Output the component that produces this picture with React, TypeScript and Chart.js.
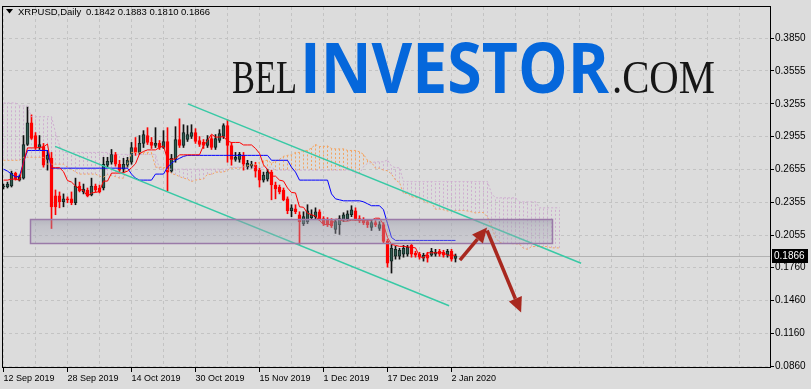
import React, { useEffect, useRef } from 'react';
import { Chart, registerables } from 'chart.js';

Chart.register(...registerables);

// ---------- DATA ----------
const symbolTitle = 'XRPUSD,Daily';
const dateLabels = ['12 Sep 2019', '28 Sep 2019', '14 Oct 2019', '30 Oct 2019', '15 Nov 2019', '1 Dec 2019', '17 Dec 2019', '2 Jan 2020'];
const yTickVals = [0.086, 0.116, 0.146, 0.176, 0.2055, 0.2355, 0.2655, 0.2955, 0.3255, 0.3555, 0.385];

const open = [
  0.2495, 0.2495, 0.2504, 0.2622, 0.2558, 0.2576, 0.2883, 0.3082, 0.2965, 0.2856,
  0.2865, 0.2748, 0.2757, 0.2414, 0.2414, 0.2360, 0.2387, 0.2387, 0.2351, 0.2504,
  0.2450, 0.2468, 0.2423, 0.2504, 0.2486, 0.2486, 0.2694, 0.2721, 0.2793, 0.2703,
  0.2658, 0.2694, 0.2721, 0.2856, 0.2811, 0.2893, 0.2965, 0.2902, 0.2874, 0.2893,
  0.2856, 0.2911, 0.2640, 0.2748, 0.2929, 0.2874, 0.2929, 0.2956, 0.2992, 0.2920,
  0.2902, 0.2874, 0.2938, 0.2856, 0.2920, 0.2956, 0.3055, 0.2874, 0.2748, 0.2748,
  0.2784, 0.2676, 0.2685, 0.2694, 0.2649, 0.2558, 0.2567, 0.2631, 0.2513, 0.2495,
  0.2468, 0.2387, 0.2278, 0.2296, 0.2242, 0.2161, 0.2179, 0.2215, 0.2224, 0.2269,
  0.2206, 0.2197, 0.2188, 0.2107, 0.2152, 0.2197, 0.2206, 0.2242, 0.2278, 0.2206,
  0.2197, 0.2179, 0.2125, 0.2170, 0.2116, 0.2152, 0.1998, 0.1818, 0.1863, 0.1863,
  0.1881, 0.1881, 0.1962, 0.1890, 0.1881, 0.1845, 0.1872, 0.1872, 0.1881, 0.1908,
  0.1899, 0.1872, 0.1908, 0.1842,
];
const high = [
  0.2522, 0.2540, 0.2640, 0.2631, 0.2604, 0.2965, 0.3227, 0.3154, 0.2992, 0.2965,
  0.2893, 0.2829, 0.2811, 0.2468, 0.2450, 0.2432, 0.2405, 0.2450, 0.2576, 0.2540,
  0.2522, 0.2486, 0.2576, 0.2522, 0.2513, 0.2766, 0.2766, 0.2838, 0.2811, 0.2739,
  0.2757, 0.2766, 0.2902, 0.2947, 0.2965, 0.3010, 0.3037, 0.2947, 0.3037, 0.2920,
  0.3010, 0.3037, 0.2793, 0.3046, 0.3118, 0.3064, 0.3055, 0.3064, 0.3028, 0.2956,
  0.2929, 0.2965, 0.2965, 0.2974, 0.3019, 0.3073, 0.3109, 0.2902, 0.2811, 0.2811,
  0.2811, 0.2739, 0.2730, 0.2721, 0.2667, 0.2631, 0.2658, 0.2649, 0.2540, 0.2513,
  0.2486, 0.2405, 0.2333, 0.2333, 0.2269, 0.2269, 0.2333, 0.2287, 0.2305, 0.2287,
  0.2224, 0.2215, 0.2206, 0.2197, 0.2233, 0.2260, 0.2278, 0.2324, 0.2305, 0.2233,
  0.2215, 0.2197, 0.2197, 0.2188, 0.2179, 0.2170, 0.2016, 0.1971, 0.1953, 0.1935,
  0.1962, 0.1962, 0.1980, 0.1908, 0.1899, 0.1890, 0.1899, 0.1935, 0.1926, 0.1926,
  0.1917, 0.1926, 0.1926, 0.1883,
];
const low = [
  0.2477, 0.2486, 0.2495, 0.2558, 0.2549, 0.2567, 0.2874, 0.2929, 0.2838, 0.2838,
  0.2676, 0.2649, 0.2116, 0.2242, 0.2305, 0.2314, 0.2351, 0.2333, 0.2333, 0.2450,
  0.2432, 0.2405, 0.2414, 0.2450, 0.2441, 0.2468, 0.2676, 0.2703, 0.2685, 0.2631,
  0.2631, 0.2676, 0.2703, 0.2784, 0.2793, 0.2856, 0.2883, 0.2847, 0.2856, 0.2838,
  0.2847, 0.2459, 0.2631, 0.2721, 0.2856, 0.2856, 0.2911, 0.2938, 0.2893, 0.2865,
  0.2847, 0.2856, 0.2838, 0.2838, 0.2902, 0.2938, 0.2721, 0.2694, 0.2730, 0.2721,
  0.2649, 0.2658, 0.2667, 0.2585, 0.2495, 0.2540, 0.2549, 0.2378, 0.2387, 0.2432,
  0.2369, 0.2251, 0.2224, 0.2251, 0.1971, 0.2143, 0.2161, 0.2197, 0.2206, 0.2188,
  0.2143, 0.2134, 0.2125, 0.2071, 0.2062, 0.2179, 0.2188, 0.2224, 0.2188, 0.2170,
  0.2152, 0.2125, 0.2098, 0.2134, 0.2098, 0.1980, 0.1763, 0.1709, 0.1836, 0.1836,
  0.1854, 0.1863, 0.1854, 0.1854, 0.1836, 0.1818, 0.1809, 0.1863, 0.1863, 0.1863,
  0.1854, 0.1854, 0.1818, 0.1810,
];
const close = [
  0.2504, 0.2522, 0.2622, 0.2567, 0.2585, 0.2883, 0.3082, 0.2938, 0.2856, 0.2883,
  0.2694, 0.2784, 0.2314, 0.2314, 0.2360, 0.2387, 0.2378, 0.2351, 0.2504, 0.2459,
  0.2477, 0.2414, 0.2504, 0.2468, 0.2450, 0.2703, 0.2730, 0.2793, 0.2703, 0.2649,
  0.2703, 0.2739, 0.2856, 0.2811, 0.2893, 0.2974, 0.2902, 0.2874, 0.2893, 0.2856,
  0.2911, 0.2631, 0.2757, 0.2929, 0.2874, 0.2992, 0.2974, 0.2992, 0.2911, 0.2883,
  0.2874, 0.2929, 0.2856, 0.2938, 0.2983, 0.3055, 0.2874, 0.2748, 0.2766, 0.2793,
  0.2703, 0.2712, 0.2703, 0.2640, 0.2558, 0.2604, 0.2631, 0.2513, 0.2477, 0.2450,
  0.2378, 0.2278, 0.2305, 0.2269, 0.2179, 0.2224, 0.2278, 0.2242, 0.2269, 0.2206,
  0.2161, 0.2152, 0.2143, 0.2179, 0.2206, 0.2242, 0.2251, 0.2287, 0.2206, 0.2188,
  0.2170, 0.2152, 0.2170, 0.2152, 0.2152, 0.1998, 0.1800, 0.1935, 0.1926, 0.1917,
  0.1935, 0.1944, 0.1881, 0.1872, 0.1854, 0.1872, 0.1845, 0.1908, 0.1899, 0.1881,
  0.1872, 0.1908, 0.1836, 0.1866,
];

const tenkan = [
  0.2558, 0.2558, 0.2567, 0.2567, 0.2558, 0.2721, 0.2852, 0.2852, 0.2852, 0.2856,
  0.2861, 0.2888, 0.2671, 0.2671, 0.2671, 0.2635, 0.2554, 0.2540, 0.2504, 0.2477,
  0.2463, 0.2409, 0.2441, 0.2445, 0.2454, 0.2549, 0.2549, 0.2622, 0.2622, 0.2622,
  0.2626, 0.2640, 0.2671, 0.2707, 0.2798, 0.2820, 0.2834, 0.2834, 0.2834, 0.2856,
  0.2870, 0.2748, 0.2748, 0.2752, 0.2789, 0.2789, 0.2789, 0.2789, 0.2789, 0.2789,
  0.2874, 0.2920, 0.2978, 0.2951, 0.2951, 0.2956, 0.2915, 0.2902, 0.2902, 0.2902,
  0.2879, 0.2879, 0.2879, 0.2847, 0.2802, 0.2698, 0.2653, 0.2594, 0.2594, 0.2558,
  0.2549, 0.2486, 0.2445, 0.2441, 0.2314, 0.2310, 0.2256, 0.2242, 0.2229, 0.2188,
  0.2152, 0.2152, 0.2152, 0.2202, 0.2197, 0.2183, 0.2183, 0.2192, 0.2192, 0.2192,
  0.2192, 0.2192, 0.2192, 0.2210, 0.2210, 0.2152, 0.2034, 0.1971, 0.1962, 0.1953,
  0.1953, 0.1948, 0.1944, 0.1939, 0.1863, 0.1845, 0.1894, 0.1894, 0.1894, 0.1894,
  0.1894, 0.1872, 0.1872, 0.1872,
];
const kijun = [
  0.2658, 0.2640, 0.2613, 0.2585, 0.2594, 0.2721, 0.2829, 0.2829, 0.2829, 0.2829,
  0.2829, 0.2829, 0.2667, 0.2667, 0.2667, 0.2667, 0.2667, 0.2667, 0.2667, 0.2667,
  0.2667, 0.2667, 0.2667, 0.2667, 0.2667, 0.2667, 0.2667, 0.2667, 0.2667, 0.2667,
  0.2667, 0.2667, 0.2613, 0.2576, 0.2558, 0.2558, 0.2558, 0.2558, 0.2613, 0.2613,
  0.2613, 0.2676, 0.2712, 0.2739, 0.2757, 0.2775, 0.2784, 0.2784, 0.2784, 0.2784,
  0.2784, 0.2784, 0.2784, 0.2784, 0.2784, 0.2784, 0.2784, 0.2784, 0.2784, 0.2784,
  0.2784, 0.2784, 0.2784, 0.2784, 0.2784, 0.2784, 0.2784, 0.2739, 0.2739, 0.2739,
  0.2739, 0.2739, 0.2676, 0.2631, 0.2558, 0.2558, 0.2558, 0.2558, 0.2558, 0.2558,
  0.2558, 0.2558, 0.2432, 0.2387, 0.2378, 0.2369, 0.2369, 0.2369, 0.2369, 0.2369,
  0.2360, 0.2342, 0.2324, 0.2324, 0.2324, 0.2287, 0.2161, 0.2034, 0.2007, 0.2007,
  0.2007, 0.2007, 0.2007, 0.2007, 0.2007, 0.2007, 0.2007, 0.2007, 0.2007, 0.2007,
  0.2007, 0.2007, 0.2007, 0.2007,
];
const spanA = [
  0.2739, 0.2739, 0.2739, 0.2739, 0.2739, 0.2766, 0.2766, 0.2766, 0.2766, 0.2766,
  0.2766, 0.2703, 0.2703, 0.2703, 0.2703, 0.2703, 0.2676, 0.2658, 0.2631, 0.2613,
  0.2613, 0.2613, 0.2613, 0.2613, 0.2594, 0.2585, 0.2608, 0.2599, 0.2590, 0.2576,
  0.2576, 0.2703, 0.2811, 0.2811, 0.2811, 0.2811, 0.2811, 0.2811, 0.2676, 0.2676,
  0.2676, 0.2658, 0.2617, 0.2608, 0.2590, 0.2576, 0.2567, 0.2545, 0.2558, 0.2563,
  0.2567, 0.2613, 0.2608, 0.2631, 0.2631, 0.2631, 0.2649, 0.2667, 0.2667, 0.2667,
  0.2680, 0.2689, 0.2698, 0.2698, 0.2721, 0.2734, 0.2739, 0.2712, 0.2730, 0.2748,
  0.2775, 0.2784, 0.2789, 0.2811, 0.2811, 0.2829, 0.2829, 0.2852, 0.2883, 0.2865,
  0.2865, 0.2870, 0.2847, 0.2843, 0.2843, 0.2843, 0.2829, 0.2829, 0.2829, 0.2816,
  0.2793, 0.2739, 0.2721, 0.2667, 0.2667, 0.2649, 0.2644, 0.2613, 0.2558, 0.2536,
  0.2436, 0.2436, 0.2407, 0.2400, 0.2393, 0.2369, 0.2351, 0.2351, 0.2292, 0.2294,
  0.2287, 0.2276, 0.2276, 0.2281, 0.2281, 0.2281, 0.2276, 0.2268, 0.2258, 0.2262,
  0.2262, 0.2220, 0.2134, 0.2034, 0.1989, 0.1980, 0.1980, 0.1978, 0.1976, 0.1973,
  0.1935, 0.1926, 0.1951, 0.1951, 0.1951, 0.1951, 0.1951, 0.1939, 0.1939, 0.1939,
];
const spanB = [
  0.3263, 0.3263, 0.3263, 0.3263, 0.3236, 0.3236, 0.3236, 0.3137, 0.3137, 0.3137,
  0.3137, 0.3137, 0.3137, 0.2992, 0.2874, 0.2811, 0.2811, 0.2811, 0.2811, 0.2811,
  0.2811, 0.2811, 0.2811, 0.2811, 0.2811, 0.2811, 0.2811, 0.2793, 0.2793, 0.2793,
  0.2793, 0.2793, 0.2793, 0.2793, 0.2793, 0.2793, 0.2793, 0.2793, 0.2793, 0.2658,
  0.2658, 0.2658, 0.2658, 0.2658, 0.2658, 0.2658, 0.2658, 0.2658, 0.2658, 0.2658,
  0.2658, 0.2658, 0.2658, 0.2658, 0.2658, 0.2658, 0.2658, 0.2676, 0.2676, 0.2676,
  0.2676, 0.2676, 0.2676, 0.2676, 0.2676, 0.2676, 0.2676, 0.2676, 0.2649, 0.2649,
  0.2649, 0.2649, 0.2649, 0.2649, 0.2649, 0.2649, 0.2649, 0.2649, 0.2649, 0.2649,
  0.2649, 0.2649, 0.2649, 0.2649, 0.2649, 0.2649, 0.2649, 0.2649, 0.2617, 0.2617,
  0.2680, 0.2712, 0.2716, 0.2725, 0.2725, 0.2725, 0.2743, 0.2685, 0.2671, 0.2671,
  0.2545, 0.2545, 0.2545, 0.2545, 0.2545, 0.2545, 0.2545, 0.2545, 0.2545, 0.2545,
  0.2545, 0.2545, 0.2545, 0.2545, 0.2545, 0.2545, 0.2545, 0.2545, 0.2545, 0.2545,
  0.2545, 0.2545, 0.2436, 0.2396, 0.2396, 0.2396, 0.2396, 0.2396, 0.2396, 0.2360,
  0.2360, 0.2360, 0.2360, 0.2360, 0.2305, 0.2305, 0.2305, 0.2305, 0.2305, 0.2305,
];

// drawn objects, in (bar index, price) coordinates
const upperChannel = [[46.1, 0.3254], [144.4, 0.1799]];
const lowerChannel = [[12.9, 0.2866], [111.4, 0.1411]];
const boxBars = [6.5, 137.1];
const boxPrices = [0.2206, 0.198];
const arrowUp = [[114.1, 0.1827], [120.9, 0.2125]];
const arrowDown = [[120.9, 0.2098], [129.4, 0.1348]];

// ---------- STYLE ----------
const BG = '#dcdcdc';
const GRID = '#c3c3c3';
const N = open.length;
const isBull = (i: number) => close[i] >= open[i];

function fitText(ctx: CanvasRenderingContext2D, text: string, font: string, color: string, left: number, baseline: number, width: number) {
  ctx.save();
  ctx.font = font;
  const w = ctx.measureText(text).width;
  ctx.translate(left, baseline);
  ctx.scale(width / w, 1);
  ctx.fillStyle = color;
  ctx.textAlign = 'left';
  ctx.textBaseline = 'alphabetic';
  ctx.fillText(text, 0, 0);
  ctx.restore();
}

function drawArrow(ctx: CanvasRenderingContext2D, x1: number, y1: number, x2: number, y2: number, color: string) {
  const ang = Math.atan2(y2 - y1, x2 - x1);
  const headLen = 15;
  const headW = 7;
  const bx = x2 - headLen * Math.cos(ang);
  const by = y2 - headLen * Math.sin(ang);
  ctx.strokeStyle = color;
  ctx.lineWidth = 3.5;
  ctx.lineCap = 'butt';
  ctx.setLineDash([]);
  ctx.beginPath();
  ctx.moveTo(x1, y1);
  ctx.lineTo(bx, by);
  ctx.stroke();
  ctx.fillStyle = color;
  ctx.beginPath();
  ctx.moveTo(x2, y2);
  ctx.lineTo(bx + headW * Math.sin(ang), by - headW * Math.cos(ang));
  ctx.lineTo(bx - headW * Math.sin(ang), by + headW * Math.cos(ang));
  ctx.closePath();
  ctx.fill();
}

const mt4Plugin = {
  id: 'mt4Overlay',
  beforeDraw(chart: any) {
    const { ctx, width, height } = chart;
    ctx.save();
    ctx.fillStyle = BG;
    ctx.fillRect(0, 0, width, height);
    ctx.restore();
  },
  beforeDatasetsDraw(chart: any) {
    const { ctx, chartArea: a } = chart;
    const xs = chart.scales.x;
    const ys = chart.scales.y;
    ctx.save();
    ctx.beginPath();
    ctx.rect(a.left, a.top, a.right - a.left, a.bottom - a.top);
    ctx.clip();
    // watermark
    fitText(ctx, 'BEL', '400 46px "Liberation Serif"', '#161616', 232, 93, 65);
    fitText(ctx, 'INVESTOR', '700 70px "Open Sans"', '#0567db', 300, 93, 309);
    fitText(ctx, '.COM', '400 46px "Liberation Serif"', '#161616', 612, 93, 103);
    // current price line
    const py = Math.round(ys.getPixelForValue(close[N - 1])) + 0.5;
    ctx.strokeStyle = '#b2b2b2';
    ctx.lineWidth = 1;
    ctx.beginPath();
    ctx.moveTo(a.left, py);
    ctx.lineTo(a.right, py);
    ctx.stroke();
    // ichimoku cloud hatch
    ctx.setLineDash([2, 2]);
    for (let k = 0; k < spanA.length; k++) {
      const x = xs.getPixelForValue(k);
      const ya = ys.getPixelForValue(spanA[k]);
      const yb = ys.getPixelForValue(spanB[k]);
      ctx.strokeStyle = spanA[k] >= spanB[k] ? '#f2a464' : '#cfaed0';
      ctx.beginPath();
      ctx.moveTo(x, ya);
      ctx.lineTo(x, yb);
      ctx.stroke();
    }
    ctx.restore();
  },
  afterDatasetsDraw(chart: any) {
    const { ctx, chartArea: a } = chart;
    const xs = chart.scales.x;
    const ys = chart.scales.y;
    const px = (k: number) => xs.getPixelForValue(k);
    const py = (v: number) => ys.getPixelForValue(v);
    ctx.save();
    ctx.beginPath();
    ctx.rect(a.left, a.top, a.right - a.left, a.bottom - a.top);
    ctx.clip();
    // channel
    ctx.strokeStyle = '#38c9a5';
    ctx.lineWidth = 1.5;
    [upperChannel, lowerChannel].forEach((ch) => {
      ctx.beginPath();
      ctx.moveTo(px(ch[0][0]), py(ch[0][1]));
      ctx.lineTo(px(ch[1][0]), py(ch[1][1]));
      ctx.stroke();
    });
    // rectangle zone
    const bx1 = Math.round(px(boxBars[0])) + 0.5;
    const bx2 = Math.round(px(boxBars[1])) + 0.5;
    const by1 = Math.round(py(boxPrices[0])) + 0.5;
    const by2 = Math.round(py(boxPrices[1])) + 0.5;
    const g = ctx.createLinearGradient(0, by1, 0, by2);
    g.addColorStop(0, 'rgba(150,150,168,0.55)');
    g.addColorStop(0.3, 'rgba(160,160,176,0.42)');
    g.addColorStop(1, 'rgba(170,170,186,0.32)');
    ctx.fillStyle = g;
    ctx.fillRect(bx1, by1, bx2 - bx1, by2 - by1);
    ctx.strokeStyle = '#9a7aa8';
    ctx.lineWidth = 1.5;
    ctx.strokeRect(bx1, by1, bx2 - bx1, by2 - by1);
    // arrows
    drawArrow(ctx, px(arrowUp[0][0]), py(arrowUp[0][1]), px(arrowUp[1][0]), py(arrowUp[1][1]), '#a8281f');
    drawArrow(ctx, px(arrowDown[0][0]), py(arrowDown[0][1]), px(arrowDown[1][0]), py(arrowDown[1][1]), '#a8281f');
    ctx.restore();

    // frame
    ctx.save();
    ctx.strokeStyle = '#000';
    ctx.lineWidth = 1;
    ctx.strokeRect(a.left - 0.5, a.top - 0.5, a.right - a.left, a.bottom - a.top);
    // header
    ctx.fillStyle = '#000';
    ctx.beginPath();
    ctx.moveTo(6, 9);
    ctx.lineTo(13, 9);
    ctx.lineTo(9.5, 13.5);
    ctx.closePath();
    ctx.fill();
    ctx.font = '9.5px "Liberation Sans"';
    ctx.textBaseline = 'alphabetic';
    ctx.textAlign = 'left';
    ctx.fillText(symbolTitle, 18, 14.5);
    const last = N - 1;
    ctx.fillText([open[last], high[last], low[last], close[last]].map((v) => v.toFixed(4)).join(' '), 86, 14.5);
    // current price label
    const cy = py(close[last]);
    ctx.fillStyle = '#000';
    ctx.fillRect(a.right + 1, Math.round(cy) - 7, 36, 14);
    ctx.fillStyle = '#fff';
    ctx.font = '10px "Liberation Sans"';
    ctx.textBaseline = 'middle';
    ctx.fillText(close[last].toFixed(4), a.right + 3, Math.round(cy));
    ctx.restore();
  },
};

export default function App() {
  const ref = useRef<HTMLCanvasElement | null>(null);

  useEffect(() => {
    document.body.style.margin = '0';
    document.body.style.background = BG;
    const canvas = ref.current;
    if (!canvas) return;

    const xTickBars: number[] = [];
    for (let k = 0; k <= 184; k += 8) xTickBars.push(k);

    const chart = new Chart(canvas, {
      type: 'bar',
      data: {
        datasets: [
          {
            type: 'line',
            label: 'Tenkan-sen',
            data: tenkan.map((v, i) => ({ x: i, y: v })),
            borderColor: '#ff0000',
            borderWidth: 1,
            pointRadius: 0,
            tension: 0,
            fill: false,
            order: 0,
          } as any,
          {
            type: 'line',
            label: 'Kijun-sen',
            data: kijun.map((v, i) => ({ x: i, y: v })),
            borderColor: '#0000ff',
            borderWidth: 1,
            pointRadius: 0,
            tension: 0,
            fill: false,
            order: 1,
          },
          {
            type: 'line',
            label: 'Senkou Span A',
            data: spanA.map((v, i) => ({ x: i, y: v })),
            borderColor: '#f4a460',
            borderWidth: 1,
            borderDash: [2, 2],
            pointRadius: 0,
            tension: 0,
            fill: false,
            order: 2,
          },
          {
            type: 'line',
            label: 'Senkou Span B',
            data: spanB.map((v, i) => ({ x: i, y: v })),
            borderColor: '#cfaed0',
            borderWidth: 1,
            borderDash: [2, 2],
            pointRadius: 0,
            tension: 0,
            fill: false,
            order: 3,
          },
          {
            type: 'bar',
            label: 'body',
            data: open.map((o, i) => ({ x: i, y: [Math.min(o, close[i]), Math.max(o, close[i])] })),
            backgroundColor: (c: any) => (isBull(c.dataIndex) ? '#2f5a50' : '#ff0000'),
            borderColor: (c: any) => (isBull(c.dataIndex) ? '#122520' : '#ff0000'),
            borderWidth: 1,
            borderSkipped: false,
            barThickness: 3,
            grouped: false,
            order: 4,
          },
          {
            type: 'bar',
            label: 'wick',
            data: low.map((l, i) => ({ x: i, y: [l, high[i]] })),
            backgroundColor: (c: any) => (isBull(c.dataIndex) ? '#111' : '#ff0000'),
            borderWidth: 0,
            barThickness: 1,
            grouped: false,
            order: 5,
          },
        ] as any,
      },
      options: {
        responsive: false,
        animation: false,
        events: [],
        layout: { padding: { left: 3, top: 3, right: 0, bottom: 0 } },
        plugins: {
          legend: { display: false },
          tooltip: { enabled: false },
          title: { display: false },
        },
        scales: {
          x: {
            type: 'linear',
            position: 'bottom',
            min: -0.125,
            max: 191.875,
            offset: false,
            afterBuildTicks: (s: any) => {
              s.ticks = xTickBars.map((v) => ({ value: v }));
            },
            afterFit: (s: any) => {
              s.height = 21;
            },
            grid: {
              color: GRID,
              lineWidth: 1,
              offset: false,
              drawTicks: true,
              tickLength: 4,
              tickColor: (c: any) => (c.tick && c.tick.label ? '#000' : 'rgba(0,0,0,0)'),
            },
            border: { display: false, dash: [3, 3] },
            ticks: {
              autoSkip: false,
              maxRotation: 0,
              minRotation: 0,
              align: 'start',
              padding: 1,
              color: '#000',
              font: { family: 'Liberation Sans', size: 9 },
              callback: (v: any) => {
                const k = Number(v);
                if (k % 16 === 0 && k / 16 < dateLabels.length) return dateLabels[k / 16];
                return '';
              },
            },
          },
          y: {
            type: 'linear',
            position: 'right',
            min: 0.08419,
            max: 0.41391,
            afterBuildTicks: (s: any) => {
              s.ticks = yTickVals.map((v) => ({ value: v }));
            },
            afterFit: (s: any) => {
              s.width = 40;
            },
            grid: { color: GRID, lineWidth: 1, tickLength: 3, tickColor: '#000' },
            border: { display: false, dash: [3, 3] },
            ticks: {
              padding: 1,
              color: '#000',
              crossAlign: 'near',
              font: { family: 'Liberation Sans', size: 10 },
              callback: (v: any) => Number(v).toFixed(4),
            },
          },
        },
      } as any,
      plugins: [mt4Plugin],
    });

    return () => chart.destroy();
  }, []);

  return (
    <div style={{ width: 811, height: 389, background: BG, overflow: 'hidden' }}>
      <canvas ref={ref} width={811} height={389} style={{ display: 'block' }} />
    </div>
  );
}
